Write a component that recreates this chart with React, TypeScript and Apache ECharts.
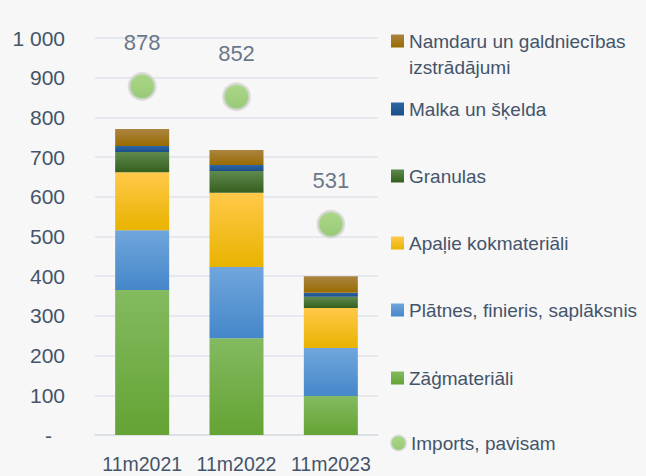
import React, { useEffect, useRef } from "react";
import * as echarts from "echarts";

const categories = ["11m2021", "11m2022", "11m2023"];
const zagmateriali = [365, 244, 98];
const platnes = [151, 179, 121];
const apalie = [146, 187, 101];
const granulas = [51, 55, 28];
const malka = [15, 15, 10];
const namdaru = [43, 38, 42];
const imports = [878, 852, 531];

const seriesNames = [
  "Zāģmateriāli",
  "Plātnes, finieris, saplāksnis",
  "Apaļie kokmateriāli",
  "Granulas",
  "Malka un šķelda",
  "Namdaru un galdniecības izstrādājumi",
];
const importsName = "Imports, pavisam";

const FONT = "'Liberation Sans', Arial, sans-serif";
const TXT = "#44546a";

function grad(top: string, bottom: string) {
  return new echarts.graphic.LinearGradient(0, 0, 0, 1, [
    { offset: 0, color: top },
    { offset: 1, color: bottom },
  ]);
}

export default function App() {
  const ref = useRef<HTMLDivElement>(null);
  useEffect(() => {
    document.body.style.margin = "0";
    const chart = echarts.init(ref.current!, null, { renderer: "svg" });
    const values = [zagmateriali, platnes, apalie, granulas, malka, namdaru];
    const colors = [
      ["#84ba60", "#64a334"],
      ["#70a6dc", "#4587ca"],
      ["#ffc94a", "#e9b300"],
      ["#5e8a4e", "#365f1e"],
      ["#2c66a5", "#1b4e88"],
      ["#ab8441", "#986c00"],
    ];
    const legendCenters = [378, 310, 243, 176, 109, 41];
    const barSeries = values.map((v, i) => ({
      name: seriesNames[i],
      type: "bar",
      stack: "total",
      data: v,
      barWidth: 54,
      itemStyle: { color: grad(colors[i][0], colors[i][1]) },
    }));
    const LH = 26;
    const legends: any[] = seriesNames.map((n, i) => {
      const multi = i === 5;
      return {
        data: [n],
        left: 391,
        top: multi ? legendCenters[i] - LH * 1.5 : legendCenters[i] - LH / 2,
        itemWidth: 13,
        itemHeight: 13,
        itemGap: 5,
        padding: 0,
        selectedMode: false,
        icon: "rect",
        formatter: multi
          ? () => "\nNamdaru un galdniecības\nizstrādājumi"
          : undefined,
        textStyle: {
          fontFamily: FONT,
          fontSize: 19,
          color: TXT,
          lineHeight: LH,
        },
      };
    });
    legends.push({
      data: [importsName],
      left: 390,
      top: 443 - LH / 2,
      itemWidth: 15,
      itemHeight: 15,
      itemGap: 4,
      padding: 0,
      selectedMode: false,
      icon: "circle",
      textStyle: { fontFamily: FONT, fontSize: 19, color: TXT, lineHeight: LH },
    });
    chart.setOption({
      animation: false,
      backgroundColor: "#f7f7f7",
      grid: { left: 95, right: 268, top: 38, bottom: 41 },
      legend: legends,
      xAxis: {
        type: "category",
        data: categories,
        axisTick: { show: false },
        axisLine: { lineStyle: { color: "#d9dee6", width: 1.5 } },
        axisLabel: {
          color: TXT,
          fontFamily: FONT,
          fontSize: 19.5,
          margin: 19,
          interval: 0,
        },
      },
      yAxis: {
        type: "value",
        min: 0,
        max: 1000,
        interval: 100,
        axisLine: { show: false },
        axisTick: { show: false },
        splitLine: { lineStyle: { color: "#dfe4ea", width: 1.5 } },
        axisLabel: {
          color: TXT,
          fontFamily: FONT,
          fontSize: 21,
          margin: 30,
          formatter: (v: number) =>
            v === 0 ? "{d|-}" : String(v).replace(/\B(?=(\d{3})+(?!\d))/g, " "),
          rich: {
            d: { color: TXT, fontFamily: FONT, fontSize: 21, padding: [0, 13, 0, 0] },
          },
        },
      },
      series: [
        ...barSeries,
        {
          name: importsName,
          type: "scatter",
          data: imports,
          symbolSize: 26,
          itemStyle: {
            color: grad("#98d06c", "#80bd56"),
            borderColor: "rgba(214,214,214,0.9)",
            borderWidth: 3,
          },
          label: {
            show: true,
            position: "top",
            distance: 18,
            color: TXT,
            fontFamily: FONT,
            fontSize: 22,
          },
          z: 5,
        },
      ],
    } as any);
    return () => chart.dispose();
  }, []);
  return <div ref={ref} style={{ width: 646, height: 476 }} />;
}
